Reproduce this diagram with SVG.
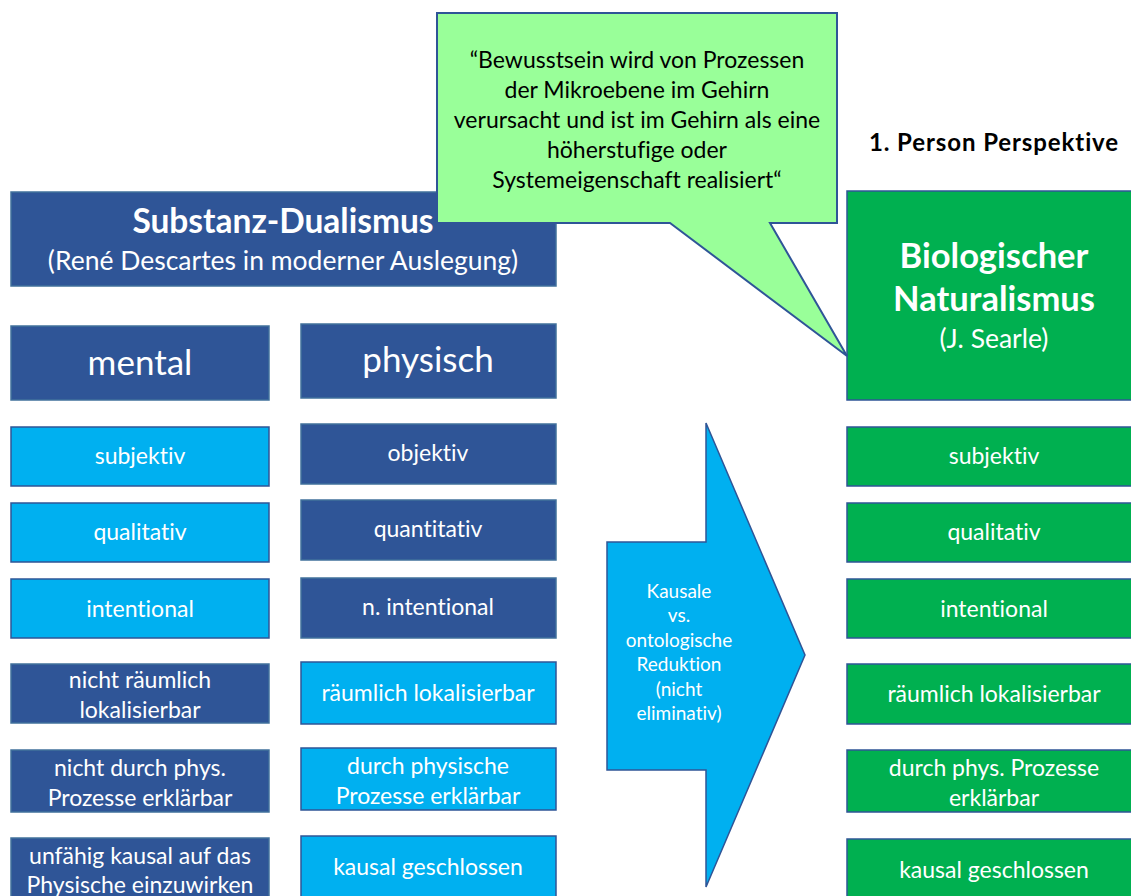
<svg xmlns="http://www.w3.org/2000/svg" width="1131" height="896" viewBox="0 0 1131 896">
  <style>
    text { font-family: Lato, "Open Sans", "Liberation Sans", sans-serif; text-anchor: middle; fill: #ffffff; font-variant-ligatures: none; font-feature-settings: "liga" 0, "clig" 0; }
    .dark { fill: #2F5597; stroke: #41719C; stroke-width: 1.5; }
    .light { fill: #00B0F0; stroke: #2F5597; stroke-width: 1.5; }
    .green { fill: #00B050; stroke: #2F5597; stroke-width: 1.5; }
    .row { font-size: 23px; }
    .big { font-size: 35px; }
    .sub { font-size: 26.5px; }
    .bold { font-weight: bold; }
    .black { fill: #000000; }
    .quote { font-size: 23px; }
    .arrow-label { font-size: 19px; }
  </style>

  <!-- Substance dualism header -->
  <g id="dualism-header">
    <rect class="dark" x="11" y="192" width="545" height="94"/>
    <text class="bold" x="283" y="233" font-size="33.5">Substanz-Dualismus</text>
    <text class="sub" x="283" y="270">(René Descartes in moderner Auslegung)</text>
  </g>

  <g id="mental">
    <rect class="dark" x="11" y="326" width="258" height="74"/>
    <text class="big" x="140" y="375">mental</text>
  </g>
  <g id="physisch">
    <rect class="dark" x="301" y="324" width="255" height="74"/>
    <text class="big" x="428" y="372">physisch</text>
  </g>

  <!-- mental column -->
  <g id="m-subjektiv">
    <rect class="light" x="11" y="427" width="258" height="59"/>
    <text class="row" x="140" y="464">subjektiv</text>
  </g>
  <g id="m-qualitativ">
    <rect class="light" x="11" y="503" width="258" height="59"/>
    <text class="row" x="140" y="540">qualitativ</text>
  </g>
  <g id="m-intentional">
    <rect class="light" x="11" y="579" width="258" height="59"/>
    <text class="row" x="140" y="617">intentional</text>
  </g>
  <g id="m-raeumlich">
    <rect class="dark" x="11" y="664" width="258" height="59"/>
    <text class="row" x="140" y="688">nicht räumlich</text>
    <text class="row" x="140" y="718">lokalisierbar</text>
  </g>
  <g id="m-erklaerbar">
    <rect class="dark" x="11" y="750" width="258" height="62"/>
    <text class="row" x="140" y="776">nicht durch phys.</text>
    <text class="row" x="140" y="806">Prozesse erklärbar</text>
  </g>
  <g id="m-kausal">
    <rect class="dark" x="11" y="838" width="258" height="62"/>
    <text class="row" x="140" y="864">unfähig kausal auf das</text>
    <text class="row" x="140" y="893">Physische einzuwirken</text>
  </g>

  <!-- physical column -->
  <g id="p-objektiv">
    <rect class="dark" x="301" y="424" width="255" height="60"/>
    <text class="row" x="428" y="461">objektiv</text>
  </g>
  <g id="p-quantitativ">
    <rect class="dark" x="301" y="500" width="255" height="60"/>
    <text class="row" x="428" y="537">quantitativ</text>
  </g>
  <g id="p-intentional">
    <rect class="dark" x="301" y="578" width="255" height="60"/>
    <text class="row" x="428" y="615">n. intentional</text>
  </g>
  <g id="p-raeumlich">
    <rect class="light" x="301" y="662" width="255" height="62"/>
    <text class="row" x="428" y="701">räumlich lokalisierbar</text>
  </g>
  <g id="p-erklaerbar">
    <rect class="light" x="301" y="748" width="255" height="62"/>
    <text class="row" x="428" y="774">durch physische</text>
    <text class="row" x="428" y="804">Prozesse erklärbar</text>
  </g>
  <g id="p-kausal">
    <rect class="light" x="301" y="836" width="255" height="64"/>
    <text class="row" x="428" y="875">kausal geschlossen</text>
  </g>

  <!-- reduction arrow -->
  <g id="reduction-arrow">
    <polygon points="607,542 706,542 706,423 805,655 706,887 706,770 607,770" fill="#00B0F0" stroke="#2F5597" stroke-width="1.5"/>
    <text class="arrow-label" x="679" y="598">Kausale</text>
    <text class="arrow-label" x="679" y="622">vs.</text>
    <text class="arrow-label" x="679" y="647">ontologische</text>
    <text class="arrow-label" x="679" y="671">Reduktion</text>
    <text class="arrow-label" x="679" y="696">(nicht</text>
    <text class="arrow-label" x="679" y="720">eliminativ)</text>
  </g>

  <!-- biological naturalism column -->
  <g id="perspective-label">
    <text class="bold black" x="994" y="151" font-size="24" letter-spacing="0.9">1. Person Perspektive</text>
  </g>
  <g id="naturalism-header">
    <rect class="green" x="847" y="191" width="296" height="209"/>
    <text class="bold" x="994" y="268" font-size="34.5">Biologischer</text>
    <text class="bold" x="994" y="311" font-size="34.5">Naturalismus</text>
    <text class="sub" x="994" y="348">(J. Searle)</text>
  </g>
  <g id="n-subjektiv">
    <rect class="green" x="847" y="427" width="296" height="59"/>
    <text class="row" x="994" y="464">subjektiv</text>
  </g>
  <g id="n-qualitativ">
    <rect class="green" x="847" y="503" width="296" height="59"/>
    <text class="row" x="994" y="540">qualitativ</text>
  </g>
  <g id="n-intentional">
    <rect class="green" x="847" y="579" width="296" height="59"/>
    <text class="row" x="994" y="617">intentional</text>
  </g>
  <g id="n-raeumlich">
    <rect class="green" x="847" y="664" width="296" height="60"/>
    <text class="row" x="994" y="702">räumlich lokalisierbar</text>
  </g>
  <g id="n-erklaerbar">
    <rect class="green" x="847" y="750" width="296" height="62"/>
    <text class="row" x="994" y="776">durch phys. Prozesse</text>
    <text class="row" x="994" y="806">erklärbar</text>
  </g>
  <g id="n-kausal">
    <rect class="green" x="847" y="839" width="296" height="62"/>
    <text class="row" x="994" y="878">kausal geschlossen</text>
  </g>

  <!-- quotation callout -->
  <g id="searle-quote">
    <path d="M437,13 H837 V223 H770 L847,356 L670,223 H437 Z" fill="#99FF99" stroke="#2F5597" stroke-width="2"/>
    <text class="black quote" x="637" y="68">“Bewusstsein wird von Prozessen</text>
    <text class="black quote" x="637" y="98">der Mikroebene im Gehirn</text>
    <text class="black quote" x="637" y="128">verursacht und ist im Gehirn als eine</text>
    <text class="black quote" x="637" y="158">höherstufige oder</text>
    <text class="black quote" x="637" y="188">Systemeigenschaft realisiert“</text>
  </g>

  <!-- no connectors besides the arrow shape -->
  <g id="connectors"/>
</svg>
